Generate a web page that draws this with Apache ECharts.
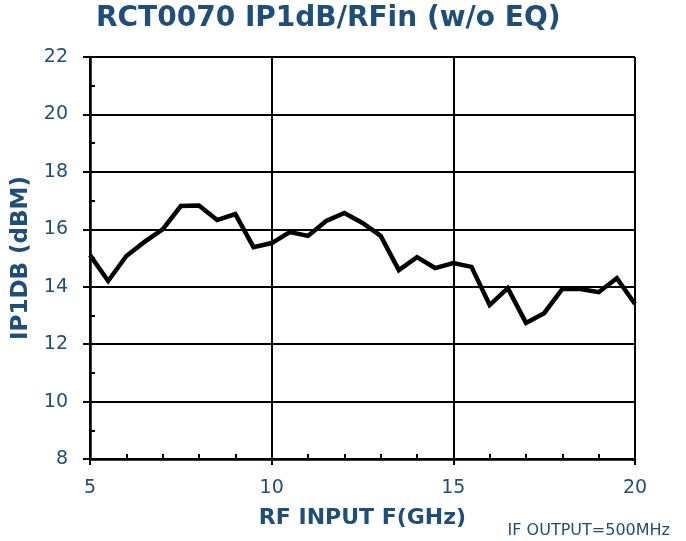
<!DOCTYPE html>
<html><head><meta charset="utf-8">
<script src="https://cdn.jsdelivr.net/npm/echarts@6/dist/echarts.min.js"></script>
<style>html,body{margin:0;padding:0;background:#fff}#c{width:686px;height:541px}</style>
</head><body><div id="c"></div>
<script>
const freqs = [5,5.5,6,6.5,7,7.5,8,8.5,9,9.5,10,10.5,11,11.5,12,12.5,13,13.5,14,14.5,15,15.5,16,16.5,17,17.5,18,18.5,19,19.5,20];
const ip1db = [15.10,14.20,15.07,15.56,16.00,16.81,16.83,16.32,16.53,15.38,15.52,15.90,15.77,16.29,16.57,16.22,15.77,14.58,15.03,14.65,14.82,14.69,13.36,13.95,12.74,13.08,13.92,13.92,13.81,14.30,13.40];
const xTicks = [5,10,15,20];
const yTicks = [8,10,12,14,16,18,20,22];
const titleText = 'RCT0070 IP1dB/RFin (w/o EQ)';
const xName = 'RF INPUT F(GHz)';
const yName = 'IP1DB (dBM)';
const note = 'IF OUTPUT=500MHz';

const C = '#1F4E79';
const F = 'DejaVu Sans';
const chart = echarts.init(document.getElementById('c'));
chart.setOption({
  animation:false,
  title:{text:titleText,left:91,top:0,textStyle:{fontFamily:F,fontSize:28,fontWeight:'bold',color:C}},
  grid:{left:90,right:51,top:57,bottom:82,containLabel:false},
  graphic:[{type:'text',right:16,bottom:2,style:{text:note,font:'16px "DejaVu Sans"',fill:C}}],
  xAxis:[{
    type:'value',min:xTicks[0],max:xTicks[xTicks.length-1],interval:5,
    name:xName,nameLocation:'middle',nameGap:48,
    nameTextStyle:{fontFamily:F,fontSize:22,fontWeight:'bold',color:C},
    axisLine:{show:true,lineStyle:{color:'#000',width:2.5}},
    axisTick:{show:true,inside:false,length:6,lineStyle:{color:'#000',width:2}},
    axisLabel:{fontFamily:F,fontSize:19,color:C,margin:20},
    splitLine:{show:true,lineStyle:{color:'#000',width:2}}
  },{
    type:'value',min:5,max:20,interval:1,position:'bottom',
    axisLine:{show:false},axisLabel:{show:false},splitLine:{show:false},
    axisTick:{show:true,inside:true,length:5,lineStyle:{color:'#000',width:2}}
  }],
  yAxis:[{
    type:'value',min:yTicks[0],max:yTicks[yTicks.length-1],interval:2,
    name:yName,nameLocation:'middle',nameGap:55,
    nameTextStyle:{fontFamily:F,fontSize:23,fontWeight:'bold',color:C},
    axisLine:{show:true,lineStyle:{color:'#000',width:2.5}},
    axisTick:{show:true,inside:false,length:7,lineStyle:{color:'#000',width:2}},
    axisLabel:{fontFamily:F,fontSize:19,color:C,margin:22},
    splitLine:{show:true,lineStyle:{color:'#000',width:2}}
  },{
    type:'value',min:8,max:22,interval:1,position:'left',
    axisLine:{show:false},axisLabel:{show:false},splitLine:{show:false},
    axisTick:{show:true,inside:true,length:5,lineStyle:{color:'#000',width:2}}
  }],
  series:[{
    type:'line',xAxisIndex:0,yAxisIndex:0,
    data:freqs.map((f,i)=>[f,ip1db[i]]),
    symbol:'none',lineStyle:{color:'#000',width:4.5,join:'miter'},
    itemStyle:{color:'#000'}
  }]
});
</script></body></html>
